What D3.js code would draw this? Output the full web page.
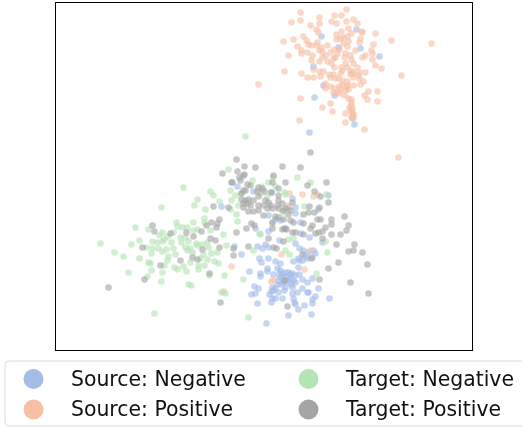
<!DOCTYPE html>
<html>
<head>
<meta charset="utf-8">
<script src="https://cdn.jsdelivr.net/npm/d3@7"></script>
<style>
  html, body { margin: 0; padding: 0; background: white; }
  text { font-family: "DejaVu Sans"; }
</style>
</head>
<body>
<div id="chart"></div>
<script>
const width = 522
const height = 427

// embedding has no axes, values are read off the picture in plot units
const xExtent = [0, 417]
const yExtent = [0, 348]

const legendLabels = ["Source: Negative", "Source: Positive", "Target: Negative", "Target: Positive"]
const legendColors = ["#a3bce8", "#f6c0a5", "#b4e4b4", "#a5a5a5"]

const sourceNegative = [
  [301,321],[266,314],[283,303],[305,302],[324,294],[258,284],[268,265],[259,253],[279,255],[297,232],[299,226],[254,218],
  [213,119],[200,122],[179,104],[186,96],[202,104],[210,106],[213,103],[207,102],[224,110],[240,107],[254,113],[267,108],
  [244,102],[248,100],[253,98],[260,97],[257,93],[252,92],[243,92],[238,89],[244,90],[204,92],[213,92],[206,88],[220,89],
  [225,87],[194,79],[212,82],[212,79],[222,82],[225,80],[243,83],[205,77],[205,74],[218,76],[227,77],[230,78],[233,78],
  [237,77],[240,75],[244,76],[225,73],[232,73],[235,72],[238,70],[223,70],[228,68],[233,68],[240,68],[247,71],[257,72],
  [252,68],[247,62],[230,63],[237,63],[199,64],[203,62],[217,63],[220,62],[223,58],[216,59],[263,62],[253,58],[252,58],
  [242,58],[237,57],[200,57],[196,56],[260,54],[257,51],[217,52],[220,52],[227,52],[238,52],[216,48],[239,48],[240,46],
  [257,47],[202,47],[274,52],[249,45],[243,41],[233,35],[256,36],[211,27],
  [182,164],[198,159],[216,158],[237,152],[240,143],[273,155],[263,141],[213,135],[240,137],[225,130],[245,128],[230,122],
  [245,117],[233,143],[220,131],[166,144],
  [228,74],[235,76],[231,70],[226,66],[236,66],[224,76],[229,60],[222,66],[218,60],[214,56],[250,94],[247,90],[258,100]
]

const sourcePositive = [
  [291,341],[245,338],[279,335],[286,335],[264,333],[298,331],[236,328],[245,330],[276,329],[281,327],[291,329],[302,327],
  [264,327],[255,325],[293,322],[261,321],[263,318],[306,319],[307,318],[320,317],[286,319],[281,316],[248,314],[296,317],
  [292,314],[288,313],[285,312],[281,311],[251,310],[238,311],[228,309],[336,310],[376,307],[305,312],[304,308],[318,306],
  [293,309],[288,307],[262,308],[253,306],[256,305],[242,304],[261,305],[266,303],[272,305],[292,304],[279,301],[284,301],
  [264,300],[246,300],[267,299],[246,297],[252,298],[275,298],[300,300],[316,300],[317,297],[233,295],[270,295],[282,297],
  [290,297],[295,295],[310,295],[257,295],[267,293],[280,293],[289,293],[307,293],[317,291],[256,290],[264,289],[272,289],
  [278,292],[296,291],[276,287],[290,287],[298,287],[302,283],[320,285],[326,282],[279,283],[258,281],[229,279],[246,277],
  [264,279],[268,279],[287,280],[295,280],[298,278],[304,278],[310,278],[346,275],[274,276],[278,276],[285,277],[295,276],
  [303,275],[252,273],[258,273],[265,274],[275,273],[280,272],[298,273],[304,272],[287,270],[270,267],[292,269],[308,269],
  [203,266],[287,266],[292,265],[298,265],[305,266],[270,262],[279,262],[285,261],[290,260],[293,261],[282,258],[313,259],
  [322,259],[284,257],[289,255],[309,255],[245,252],[312,251],[322,249],[293,252],[296,251],[275,247],[267,243],[296,245],
  [297,242],[277,239],[290,237],[297,238],[298,236],[296,233],[298,233],[244,230],[290,228],[309,221],[343,193],
  [176,84],[168,59],[234,157],[258,154],[262,156],[247,156],[226,96],[255,100],[249,81],[216,69],[218,71],[233,145],
  [296,248],[297,235],[294,243],[295,240],[291,264],[284,264],[278,258],[275,264],[297,277],[292,283],[286,283],[283,272]
]

const targetNegative = [
  [128,163],[106,143],[142,151],[139,145],[155,159],[158,155],[164,149],[150,141],[175,160],[180,155],[176,150],[183,145],
  [181,136],[182,129],[149,132],[149,128],[80,123],[93,121],[121,128],[122,124],[127,123],[132,123],[138,128],[142,121],
  [155,120],[168,116],[107,118],[118,118],[104,115],[112,114],[109,111],[125,113],[130,113],[138,120],[45,107],[84,110],
  [76,106],[97,109],[102,108],[107,109],[116,108],[126,108],[133,109],[141,107],[152,108],[147,106],[171,105],[91,103],
  [97,102],[103,102],[111,101],[118,102],[130,103],[135,102],[142,105],[153,103],[59,98],[68,94],[96,97],[107,99],[120,96],
  [132,100],[137,98],[148,96],[156,97],[162,98],[84,92],[113,94],[145,92],[152,91],[93,88],[95,87],[112,90],[135,88],
  [159,89],[163,87],[109,85],[119,83],[149,85],[143,85],[122,81],[128,84],[131,79],[143,81],[96,80],[107,78],[73,78],
  [92,74],[154,75],[169,75],[188,71],[106,69],[133,66],[136,65],[166,58],[170,57],[99,37],[193,33],
  [190,214],[173,181],[197,170],[218,173],[242,173],[255,168],[213,168],[220,164],[186,157],[206,164],[205,157],[212,154],
  [229,158],[230,156],[271,156],[249,144],[175,141],[217,127],[204,117],[227,138],[205,116],[233,111],[238,112],[270,109],
  [272,98],[198,100],[230,100],[234,96],[261,77]
]

const targetPositive = [
  [255,198],[181,191],[189,184],[200,183],[227,184],[245,183],[182,179],[189,176],[218,175],[184,173],[185,170],[177,168],
  [230,168],[271,168],[192,166],[195,165],[217,168],[252,165],[223,162],[203,163],[207,162],[190,160],[202,159],[209,159],
  [216,158],[259,159],[265,154],[223,155],[203,154],[186,151],[190,150],[193,151],[198,150],[210,150],[213,148],[223,150],
  [237,148],[273,148],[188,147],[192,147],[203,145],[208,145],[215,145],[222,145],[227,147],[173,143],[188,143],[195,145],
  [254,144],[264,143],[230,142],[203,140],[212,142],[193,139],[198,139],[217,142],[223,142],[228,140],[235,140],[253,138],
  [259,138],[248,136],[208,135],[220,134],[223,133],[233,136],[289,134],[262,131],[265,131],[276,131],[228,131],[235,130],
  [238,128],[217,128],[196,127],[199,125],[248,127],[257,125],[276,126],[293,125],[255,122],[191,122],[227,121],[231,121],
  [217,122],[270,123],[181,118],[267,119],[263,118],[291,120],[237,118],[260,117],[285,116],[276,116],[193,104],[218,103],
  [221,102],[178,102],[178,95],[299,106],[281,106],[267,112],[293,99],[298,100],[307,98],[283,88],[312,86],[273,82],
  [264,71],[295,68],[313,57],[232,44],[229,70],[213,112],[228,109],[247,96],[256,92],[229,122],[240,118],[248,116],
  [53,63],[89,71],[105,85],[87,103],[97,125],[99,119],[115,117],[131,118],[138,114],[146,119],[151,125],[156,128],
  [162,127],[164,131],[161,123],[158,144],[155,112],[160,110],[164,103],[147,101],[137,93],[142,91],[125,90],[154,77],
  [165,48],[167,177],[176,168],[188,175],[186,157],[188,160]
]

const seriesList = [sourceNegative, sourcePositive, targetNegative, targetPositive]

const svg = d3.select("#chart")
  .append("svg")
  .attr("width", width)
  .attr("height", height)
  .style("display", "block")
  .style("filter", "blur(0.35px)")

const x = d3.scaleLinear().domain(xExtent).range([55.5, 472.5])
const y = d3.scaleLinear().domain(yExtent).range([350.5, 2.5])

const pointLayer = svg.append("g")

seriesList.forEach((points, i) => {
  pointLayer.append("g")
    .selectAll("circle")
    .data(points)
    .join("circle")
    .attr("cx", d => x(d[0]))
    .attr("cy", d => y(d[1]))
    .attr("r", 3.3)
    .attr("fill", legendColors[i])
    .attr("fill-opacity", 0.62)
})

// plot frame
svg.append("rect")
  .attr("x", x(xExtent[0]))
  .attr("y", y(yExtent[1]))
  .attr("width", x(xExtent[1]) - x(xExtent[0]))
  .attr("height", y(yExtent[0]) - y(yExtent[1]))
  .attr("fill", "none")
  .attr("stroke", "black")
  .attr("stroke-width", 1)

// legend
svg.append("rect")
  .attr("x", 5)
  .attr("y", 361)
  .attr("width", 520)
  .attr("height", 65)
  .attr("rx", 4)
  .attr("fill", "white")
  .attr("stroke", "#dcdcdc")
  .attr("stroke-width", 1)

const legendItem = svg.selectAll("g.legend-item")
  .data(legendLabels)
  .join("g")
  .attr("class", "legend-item")
  .attr("transform", (d, i) => `translate(${i < 2 ? 33.5 : 308.5},${i % 2 === 0 ? 379 : 409.5})`)

legendItem.append("circle")
  .attr("r", 10)
  .attr("fill", (d, i) => legendColors[i])

legendItem.append("text")
  .attr("x", 37.5)
  .attr("y", 6.5)
  .attr("font-size", 20.4)
  .attr("fill", "#111")
  .text(d => d)
</script>
</body>
</html>
